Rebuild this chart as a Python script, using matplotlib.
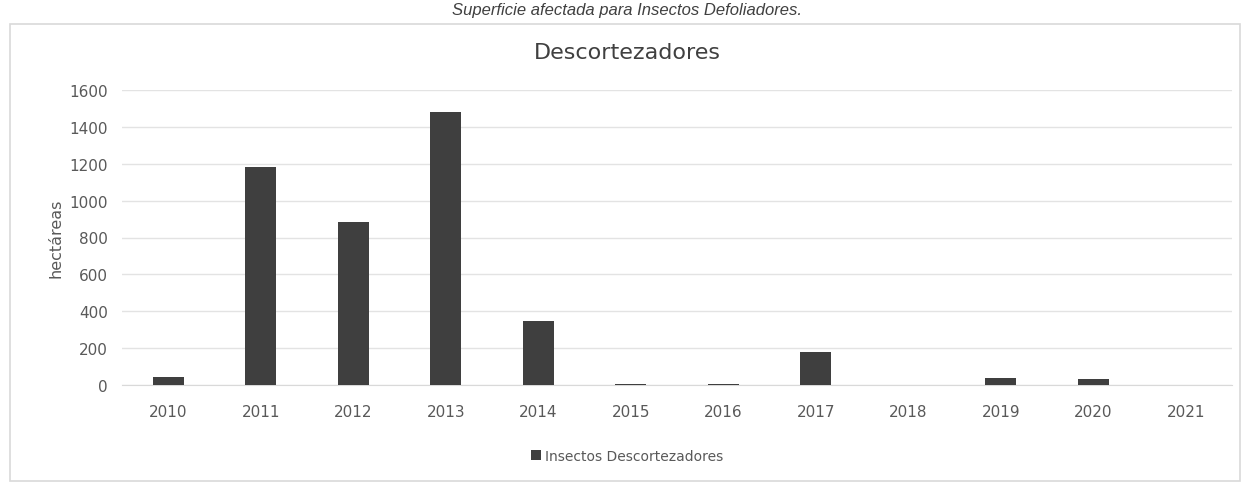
import matplotlib.pyplot as plt
from matplotlib.patches import Rectangle

# Data
years = ["2010", "2011", "2012", "2013", "2014", "2015",
         "2016", "2017", "2018", "2019", "2020", "2021"]
hectareas = [45, 1180, 886, 1480, 345, 6, 5, 180, 0, 38, 35, 0]
yticks = [0, 200, 400, 600, 800, 1000, 1200, 1400, 1600]

W, H = 1255, 489
fig = plt.figure(figsize=(W / 100, H / 100), dpi=100)
fig.patch.set_facecolor("white")

# Chart-area frame (Excel style box)
fig.patches.append(Rectangle((10 / W, 1 - 482 / H), 1230 / W, 457 / H,
                             transform=fig.transFigure, fill=False,
                             edgecolor="#d9d9d9", linewidth=1.2))

# Caption above the chart
fig.text(0.5, 1 - 10 / H, "Superficie afectada para Insectos Defoliadores.",
         ha="center", va="center", fontsize=12, style="italic",
         color="#404040", family="Liberation Sans")

ax = fig.add_axes([122 / W, 1 - 386 / H, 1110 / W, 295 / H])
x = range(len(years))
ax.bar(x, hectareas, width=0.33, color="#3f3f3f",
       label="Insectos Descortezadores", zorder=3)

ax.set_xlim(-0.5, len(years) - 0.5)
ax.set_ylim(0, 1600)
ax.set_yticks(yticks)
ax.set_xticks(list(x))
ax.set_xticklabels(years)
ax.grid(axis="y", color="#e3e3e3", linewidth=1, zorder=0)
for s in ["top", "right", "left"]:
    ax.spines[s].set_visible(False)
ax.spines["bottom"].set_color("#d9d9d9")
ax.tick_params(length=0, labelsize=11, colors="#595959", pad=10)
ax.tick_params(axis="x", pad=14)
ax.set_ylabel("hectáreas", fontsize=11.5, color="#595959", labelpad=4)

fig.text(0.5, 1 - 53 / H, "Descortezadores", ha="center", va="center",
         fontsize=16, color="#404040")

fig.legend(loc="center", bbox_to_anchor=(0.5, 1 - 457 / H), frameon=False,
           fontsize=10, labelcolor="#595959", handlelength=0.7,
           handleheight=0.7, handletextpad=0.3)

fig.savefig("out.png", dpi=100)
